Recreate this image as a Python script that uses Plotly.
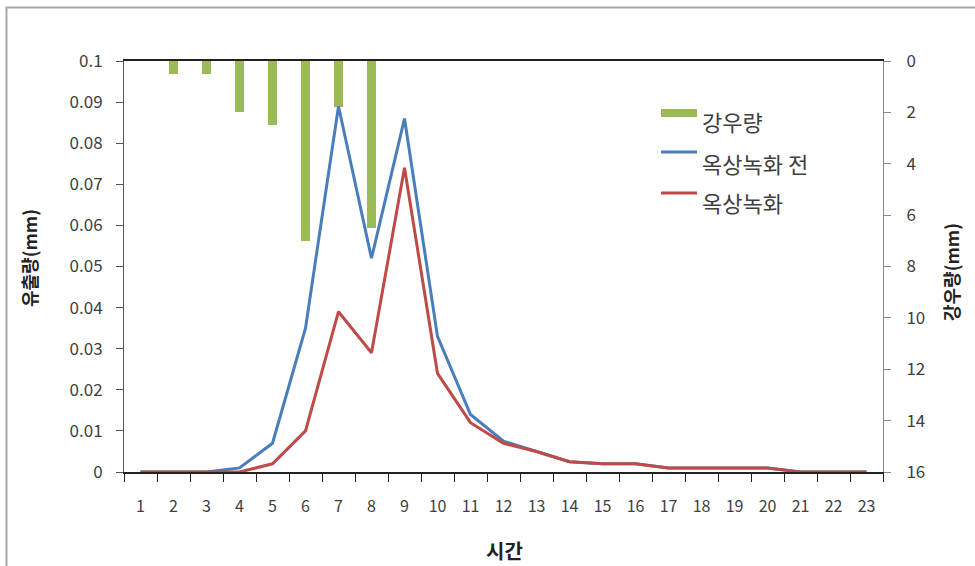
import plotly.graph_objects as go

# Hourly data (hours 1..23)
hours = [str(h) for h in range(1, 24)]
rainfall_mm = [0, 0.5, 0.5, 2, 2.5, 7, 1.8, 6.5, 0, 0, 0, 0, 0, 0, 0, 0, 0, 0, 0, 0, 0, 0, 0]
runoff_before = [0, 0, 0, 0.001, 0.007, 0.035, 0.089, 0.052, 0.086, 0.033, 0.014, 0.0075,
                 0.005, 0.0025, 0.002, 0.002, 0.001, 0.001, 0.001, 0.001, 0, 0, 0]
runoff_after = [0, 0, 0, 0, 0.002, 0.010, 0.039, 0.029, 0.074, 0.024, 0.012, 0.007,
                0.005, 0.0025, 0.002, 0.002, 0.001, 0.001, 0.001, 0.001, 0, 0, 0]
runoff_ticks = [0, 0.01, 0.02, 0.03, 0.04, 0.05, 0.06, 0.07, 0.08, 0.09, 0.1]
runoff_ticktext = ["0", "0.01", "0.02", "0.03", "0.04", "0.05", "0.06", "0.07", "0.08", "0.09", "0.1"]
series_names = ["강우량", "옥상녹화 전", "옥상녹화"]
series_colors = ["#9BBB59", "#4A7EBB", "#BE4B48"]

FONT = "Noto Sans CJK KR"
TXT = "#404040"

fig = go.Figure()

# Rainfall bars hang from the top on the reversed right axis
fig.add_trace(go.Bar(
    x=hours, y=rainfall_mm, name=series_names[0], yaxis="y",
    marker=dict(color=series_colors[0], line=dict(width=0)), width=0.26,
))
fig.add_trace(go.Scatter(
    x=hours, y=runoff_before, name=series_names[1], yaxis="y2", mode="lines",
    line=dict(color=series_colors[1], width=3),
))
fig.add_trace(go.Scatter(
    x=hours, y=runoff_after, name=series_names[2], yaxis="y2", mode="lines",
    line=dict(color=series_colors[2], width=3),
))

W, H = 975, 566
L, R, T, B = 124, 883, 61, 472


def px(xp):
    return (xp - L) / (R - L)


def py(yp):
    return (B - yp) / (B - T)


shapes = [
    dict(type="rect", xref="paper", yref="paper",
         x0=px(6.5), x1=px(990), y0=py(580), y1=py(7.5),
         line=dict(color="#A6A6A6", width=2), fillcolor="rgba(0,0,0,0)",
         layer="below"),
]
annotations = [
    dict(text="<b>유출량(mm)</b>", xref="paper", yref="paper",
         x=px(29), y=py(258), xanchor="center", yanchor="middle",
         textangle=-90, showarrow=False, font=dict(size=18, color="#222")),
    dict(text="<b>강우량(mm)</b>", xref="paper", yref="paper",
         x=px(951), y=py(272), xanchor="center", yanchor="middle",
         textangle=-90, showarrow=False, font=dict(size=18, color="#222")),
    dict(text="<b>시간</b>", xref="paper", yref="paper",
         x=px(504), y=py(550), xanchor="center", yanchor="middle",
         showarrow=False, font=dict(size=20, color="#222")),
]

# Legend block: a swatch for the bars, line samples for the two runoff series
legend_rows = [(113, 121), (152, 163), (193, 202)]  # (symbol y, text y) in pixels
for i, (sy, ty) in enumerate(legend_rows):
    if i == 0:
        shapes.append(dict(type="rect", xref="paper", yref="paper",
                           x0=px(661), x1=px(697), y0=py(sy + 4), y1=py(sy - 4),
                           fillcolor=series_colors[i], line=dict(width=0)))
    else:
        shapes.append(dict(type="line", xref="paper", yref="paper",
                           x0=px(661), x1=px(697), y0=py(sy), y1=py(sy),
                           line=dict(color=series_colors[i], width=3)))
    annotations.append(dict(text=series_names[i], xref="paper", yref="paper",
                            x=px(700), y=py(ty), xanchor="left", yanchor="middle",
                            showarrow=False, font=dict(size=22, color=TXT)))

fig.update_layout(
    width=W, height=H,
    margin=dict(l=L, r=W - R, t=T, b=H - B),
    paper_bgcolor="white", plot_bgcolor="white",
    font=dict(family=FONT, size=16, color=TXT),
    showlegend=False,
    bargap=0,
    xaxis=dict(
        type="category", tickson="boundaries", ticks="outside", ticklen=8,
        tickcolor="#222", showline=True, linecolor="#222", linewidth=1.5,
        mirror=True, showgrid=False, zeroline=False, ticklabelstandoff=19,
        tickfont=dict(size=16, color=TXT),
    ),
    yaxis=dict(
        side="right", range=[16, 0], dtick=2, tick0=0, ticks="outside",
        ticklen=7, tickcolor="#888", showline=True, linecolor="#888",
        showgrid=False, zeroline=False, ticklabelstandoff=12,
        tickfont=dict(size=17, color=TXT),
    ),
    yaxis2=dict(
        side="left", overlaying="y", range=[0, 0.1],
        tickvals=runoff_ticks, ticktext=runoff_ticktext, ticks="outside",
        ticklen=7, tickcolor="#555", showline=True, linecolor="#555",
        showgrid=False, zeroline=False, ticklabelstandoff=10,
        tickfont=dict(size=17, color=TXT),
    ),
    shapes=shapes,
    annotations=annotations,
)

fig.write_html("out.html")
